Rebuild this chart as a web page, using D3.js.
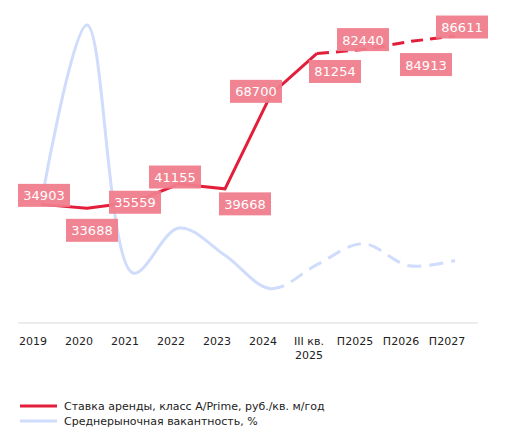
<!DOCTYPE html><html><head><meta charset="utf-8"><script src="https://cdn.jsdelivr.net/npm/d3@7"></script>
<style>body{margin:0;background:#fff}</style></head><body><svg id="c" width="508" height="439"></svg>
<script>
const categories=["2019","2020","2021","2022","2023","2024","III кв.|2025","П2025","П2026","П2027"];
const rent=[34903,33688,35559,41155,39668,68700,81254,82440,84913,86611];
const vacancy=[10.9,28,4.3,8.6,6.0,2.8,5.1,7.1,5.0,5.5];
const labelDx=[3,5,2,-4,20,-15,18,0,17,7];
const labelDy=[-9,22,0,-7,15,-3,18,-10,23,-9];
const svg=d3.select("#c");
const x=d3.scalePoint().domain(categories).range([41,455]);
const y=d3.scaleLinear().domain([0,90000]).range([318,25]);
const y2=d3.scaleLinear().domain([0,28]).range([318,25]);
svg.append("line").attr("x1",18).attr("x2",478).attr("y1",323).attr("y2",323).attr("stroke","#d9d9d9");
const ax=svg.append("g");
categories.forEach(c=>{const parts=c.split("|");const t=ax.append("text").attr("x",x(c)-8).attr("y",345).attr("text-anchor","middle").attr("font-family","DejaVu Sans").attr("font-size",11).attr("fill","#222");
parts.forEach((p,i)=>t.append("tspan").attr("x",x(c)-8).attr("dy",i?14:0).text(p));});
const idx=d3.range(categories.length);
const ln=(sc,arr,curve)=>d3.line().x(i=>x(categories[i])).y(i=>sc(arr[i])).curve(curve);
const cv=d3.curveCatmullRom.alpha(0.5);
// vacancy: solid through 2024, dashed after
const vPath=svg.append("path").attr("d",ln(y2,vacancy,cv)(idx)).attr("fill","none").attr("stroke","#cfdcfb").attr("stroke-width",3);
const full=vPath.node().getTotalLength();
const tmp=svg.append("path").attr("d",ln(y2,vacancy,cv)(idx.slice(0,6))).attr("visibility","hidden");
const solidLen=tmp.node().getTotalLength();tmp.remove();
let da=[solidLen,0];let rest=full-solidLen;while(rest>0){da.push(14,8);rest-=22;}
vPath.attr("stroke-dasharray",da.join(","));
svg.append("path").attr("d",ln(y,rent,d3.curveLinear)(idx.slice(0,7))).attr("fill","none").attr("stroke","#e31e3a").attr("stroke-width",3);
svg.append("path").attr("d",ln(y,rent,d3.curveLinear)(idx.slice(6))).attr("fill","none").attr("stroke","#e31e3a").attr("stroke-width",3).attr("stroke-dasharray","12,7");
idx.forEach(i=>{const cx=x(categories[i])+labelDx[i],cy=y(rent[i])+labelDy[i];
svg.append("rect").attr("x",cx-26).attr("y",cy-11.5).attr("width",52).attr("height",23).attr("fill","#f07d8c").attr("opacity",0.95);
svg.append("text").attr("x",cx).attr("y",cy+5).attr("text-anchor","middle").attr("font-family","DejaVu Sans").attr("font-size",13).attr("fill","#fff").text(rent[i]);});
const lg=[["Ставка аренды, класс A/Prime, руб./кв. м/год","#e31e3a",406],["Среднерыночная вакантность, %","#cfdcfb",421]];
lg.forEach(d=>{svg.append("line").attr("x1",20).attr("x2",57).attr("y1",d[2]).attr("y2",d[2]).attr("stroke",d[1]).attr("stroke-width",3);
svg.append("text").attr("x",64).attr("y",d[2]+4).attr("font-family","DejaVu Sans").attr("font-size",11).attr("fill","#222").text(d[0]);});
</script></body></html>
